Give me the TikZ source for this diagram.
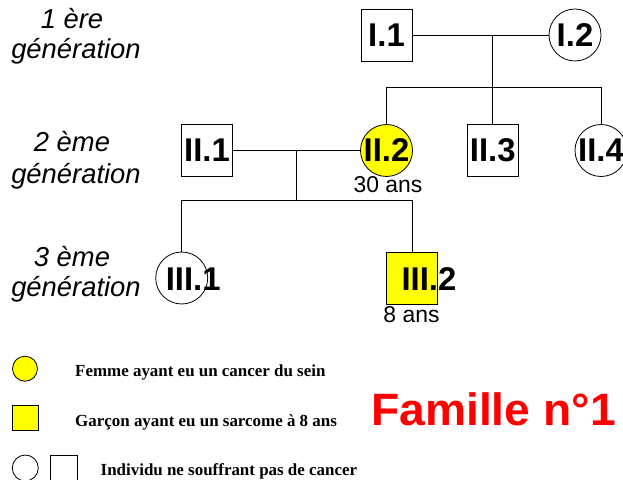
\documentclass[tikz,border=0pt]{standalone}
\usepackage{fontspec}
\setmainfont{Liberation Sans}
\newfontfamily\serifbold{Liberation Serif}
\newfontfamily\famfont[FakeStretch=1.02]{Liberation Sans}
\definecolor{pedyellow}{RGB}{255,255,0}
\definecolor{famred}{RGB}{255,0,0}
\newcommand\pedfont{\fontsize{33}{33}\selectfont\bfseries}
\newcommand\genfont{\fontsize{27.5}{31}\selectfont\itshape}
\newcommand\agefont{\fontsize{23}{23}\selectfont}
\newcommand\legfont{\serifbold\fontsize{17}{17}\selectfont\bfseries}
\begin{document}
\begin{tikzpicture}[x=1bp,y=-1bp,
  male/.style={draw, rectangle, minimum width=51bp, minimum height=52bp, inner sep=0pt, line width=0.9bp, font=\pedfont},
  female/.style={draw, circle, minimum size=52bp, inner sep=0pt, line width=0.8bp, font=\pedfont},
  affected/.style={fill=pedyellow},
  link/.style={line width=0.9bp},
  genlab/.style={font=\genfont, anchor=base, inner sep=0pt},
  agelab/.style={font=\agefont, anchor=base, inner sep=0pt},
  idlab/.style={font=\pedfont, anchor=base west, inner sep=0pt},
  legtext/.style={font=\legfont, anchor=base west, inner sep=0pt},
  legshape/.style={draw, inner sep=0pt, line width=0.8bp}]
\useasboundingbox (0,0) rectangle (623,480);
\clip (0,0) rectangle (623,480);

% generation labels
\node[genlab] (g1a) at (72,28.3) {1 ère};
\node[genlab] (g1b) at (76,58.3) {génération};
\node[genlab] (g2a) at (72,151.7) {2 ème};
\node[genlab] (g2b) at (76,183.5) {génération};
\node[genlab] (g3a) at (72,266.5) {3 ème};
\node[genlab] (g3b) at (76,296.7) {génération};

% generation I
\node[male] (I1) at (386.5,35) {I.1};
\node[female] (I2) at (575,35) {I.2};
\coordinate (m1) at (492.7,35);
\coordinate (s1) at (492.7,87);

% generation II
\node[male] (II1) at (207,150.5) {II.1};
\node[female, affected] (II2) at (386.5,150.5) {II.2};
\node[male] (II3) at (492.7,150.5) {II.3};
\node[female] (II4) at (601,150.5) {II.4};
\coordinate (m2) at (296.7,150.5);
\coordinate (s2) at (296.7,200);

% generation III
\node[female] (III1) at (181.7,278) {};
\node[male, affected] (III2) at (412,278.3) {};
\node[idlab] (t31) at (165.6,290.3) {III.1};
\node[idlab] (t32) at (401.3,290.5) {III.2};

% ages
\node[agelab] (a22) at (388,192.7) {30 ans};
\node[agelab] (a32) at (411.5,322.7) {8 ans};

% connectors
\draw[link] (I1.east) -- (I2.west);
\draw[link] (m1) -- (s1);
\draw[link] (II2.north |- s1) -- (II4.north |- s1);
\draw[link] (II2.north |- s1) -- (II2.north);
\draw[link] (s1) -- (II3.north);
\draw[link] (II4.north |- s1) -- (II4.north);

\draw[link] (II1.east) -- (II2.west);
\draw[link] (m2) -- (s2);
\draw[link] (III1.north |- s2) -- (III2.north |- s2);
\draw[link] (III1.north |- s2) -- (III1.north);
\draw[link] (III2.north |- s2) -- (III2.north);

% legend
\node[legshape, circle, fill=pedyellow, minimum size=25bp] (lc1) at (25,368.7) {};
\node[legshape, rectangle, fill=pedyellow, minimum width=26bp, minimum height=25.7bp] (ls1) at (25.3,418) {};
\node[legshape, circle, minimum size=26bp] (lc2) at (25.3,468) {};
\node[legshape, rectangle, minimum width=26.6bp, minimum height=26bp] (ls2) at (64,468) {};
\node[legtext] (lt1) at (75,376) {Femme ayant eu un cancer du sein};
\node[legtext] (lt2) at (75,426) {Garçon ayant eu un sarcome à 8 ans};
\node[legtext] (lt3) at (100.5,475) {Individu ne souffrant pas de cancer};

% title
\node[anchor=base west, inner sep=0pt, text=famred, font=\famfont\fontsize{45.5}{45.5}\selectfont\bfseries] (fam) at (371,425) {Famille n°1};
\end{tikzpicture}
\end{document}
